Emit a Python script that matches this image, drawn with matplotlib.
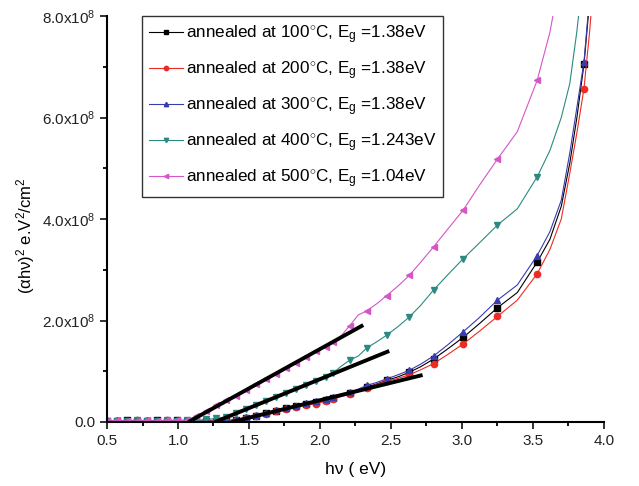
import matplotlib
matplotlib.use("Agg")
import matplotlib.pyplot as plt
from matplotlib.ticker import MultipleLocator, FuncFormatter

plt.rcParams['font.family'] = ['Liberation Sans', 'DejaVu Sans']
plt.rcParams['mathtext.fontset'] = 'custom'
plt.rcParams['mathtext.rm'] = 'Liberation Sans'
plt.rcParams['mathtext.it'] = 'Liberation Sans:italic'

# photon energy (eV)
hv = [0.50, 0.57, 0.64, 0.71, 0.78, 0.85, 0.92, 0.99, 1.06, 1.13, 1.20, 1.27,
      1.34, 1.41, 1.48, 1.55, 1.62, 1.69, 1.76, 1.83, 1.90, 1.97, 2.04, 2.09,
      2.15, 2.21, 2.27, 2.33, 2.40, 2.47, 2.55, 2.63, 2.71, 2.80, 2.90, 3.01,
      3.12, 3.25, 3.39, 3.53, 3.62, 3.70, 3.76, 3.81, 3.86, 3.90, 3.95]

# (alpha h nu)^2 in units of 1e8
y_100 = [0.02, 0.02, 0.03, 0.02, 0.02, 0.03, 0.02, 0.03, 0.02, 0.02, 0.02, 0.02,
         0.02, 0.04, 0.08, 0.12, 0.17, 0.22, 0.27, 0.31, 0.36, 0.40, 0.44, 0.48,
         0.52, 0.57, 0.63, 0.69, 0.75, 0.82, 0.89, 0.98, 1.09, 1.24, 1.44, 1.67,
         1.93, 2.25, 2.55, 3.15, 3.60, 4.25, 5.10, 6.00, 7.05, 8.30, 10.0]
y_200 = [0.02, 0.02, 0.02, 0.03, 0.02, 0.02, 0.03, 0.02, 0.02, 0.02, 0.03, 0.02,
         0.02, 0.03, 0.07, 0.11, 0.16, 0.21, 0.26, 0.30, 0.33, 0.36, 0.41, 0.45,
         0.50, 0.55, 0.61, 0.67, 0.74, 0.80, 0.86, 0.93, 1.03, 1.15, 1.33, 1.54,
         1.78, 2.08, 2.40, 2.92, 3.40, 4.00, 4.90, 5.70, 6.57, 7.70, 9.50]
y_300 = [0.02, 0.03, 0.02, 0.02, 0.03, 0.02, 0.02, 0.03, 0.03, 0.02, 0.02, 0.02,
         0.03, 0.05, 0.09, 0.13, 0.18, 0.23, 0.28, 0.32, 0.37, 0.42, 0.46, 0.50,
         0.54, 0.59, 0.65, 0.72, 0.78, 0.85, 0.93, 1.02, 1.14, 1.30, 1.52, 1.78,
         2.05, 2.40, 2.70, 3.28, 3.75, 4.37, 5.30, 6.20, 7.10, 8.40, 10.0]
y_400 = [0.02, 0.02, 0.02, 0.03, 0.02, 0.02, 0.03, 0.02, 0.03, 0.03, 0.05, 0.07,
         0.10, 0.17, 0.25, 0.33, 0.41, 0.49, 0.57, 0.65, 0.73, 0.81, 0.89, 0.96,
         1.10, 1.22, 1.30, 1.46, 1.58, 1.71, 1.88, 2.07, 2.30, 2.60, 2.90, 3.22,
         3.52, 3.88, 4.20, 4.83, 5.35, 6.00, 6.67, 7.70, 9.00, 10.0, 12.0]
y_500 = [0.02, 0.03, 0.02, 0.02, 0.03, 0.02, 0.03, 0.04, 0.03, 0.12, 0.22, 0.33,
         0.43, 0.52, 0.63, 0.74, 0.85, 0.95, 1.06, 1.17, 1.28, 1.39, 1.48, 1.57,
         1.70, 1.90, 2.11, 2.19, 2.33, 2.49, 2.68, 2.89, 3.15, 3.45, 3.80, 4.18,
         4.65, 5.18, 5.72, 6.73, 7.68, 8.90, 10.0, 11.0, 11.5, 12.0, 12.5]

labels = ["annealed at 100$^{\\circ}$C, E$_{\\rm g}$ =1.38eV",
          "annealed at 200$^{\\circ}$C, E$_{\\rm g}$ =1.38eV",
          "annealed at 300$^{\\circ}$C, E$_{\\rm g}$ =1.38eV",
          "annealed at 400$^{\\circ}$C, E$_{\\rm g}$ =1.243eV",
          "annealed at 500$^{\\circ}$C, E$_{\\rm g}$ =1.04eV"]

# linear fits (Tauc extrapolation lines)
fit_500_x = [1.073, 2.305]
fit_500_y = [0.0, 1.91]
fit_400_x = [1.26, 2.488]
fit_400_y = [0.0, 1.40]
fit_300_x = [1.378, 2.723]
fit_300_y = [0.0, 0.926]

series = [y_100, y_200, y_300, y_400, y_500]
colors = ['#000000', '#ee2b22', '#3b3bb0', '#2a8a82', '#d655c8']
markers = ['s', 'o', '^', 'v', '<']

no_marker = {2.15, 2.27, 2.40, 2.55, 2.71, 2.90, 3.12, 3.39, 3.62, 3.70, 3.76,
             3.81, 3.90, 3.95}
mark_idx = [i for i, x in enumerate(hv) if x not in no_marker]

fig = plt.figure(figsize=(6.39, 4.86), dpi=100)
ax = fig.add_axes([0.1675, 0.1317, 0.7775, 0.8353])

scale = 1e8
for ys, c, m, lab in zip(series, colors, markers, labels):
    ax.plot(hv, [v * scale for v in ys], color=c, lw=0.8, marker=m, ms=4.5,
            markevery=mark_idx, label=lab)

for fx, fy in [(fit_500_x, fit_500_y), (fit_400_x, fit_400_y), (fit_300_x, fit_300_y)]:
    ax.plot(fx, [v * scale for v in fy], color='black', lw=2.8, solid_capstyle='butt')

ax.set_xlim(0.5, 4.0)
ax.set_ylim(0, 8e8)
ax.spines['top'].set_visible(False)
ax.spines['right'].set_visible(False)
for s in ['left', 'bottom']:
    ax.spines[s].set_linewidth(1.5)
ax.xaxis.set_major_locator(MultipleLocator(0.5))
ax.xaxis.set_minor_locator(MultipleLocator(0.25))
ax.yaxis.set_major_locator(MultipleLocator(2e8))
ax.yaxis.set_minor_locator(MultipleLocator(1e8))
ax.tick_params(which='major', direction='out', length=5, width=1.3, labelsize=11, colors='#222222')
ax.tick_params(which='minor', direction='out', length=3, width=1.3)


def yfmt(v, pos):
    if abs(v) < 1:
        return "0.0"
    return "%.1fx10$^{8}$" % (v / 1e8)


ax.yaxis.set_major_formatter(FuncFormatter(yfmt))
ax.xaxis.set_major_formatter(FuncFormatter(lambda v, p: "%.1f" % v))

ax.set_xlabel("h\u03bd ( eV)", fontsize=12.5, labelpad=10)
ax.set_ylabel("(\u03b1h\u03bd)$^{2}$ e.V$^{2}$/cm$^{2}$", fontsize=12)
ax.yaxis.set_label_coords(-0.14, 0.46)

leg = ax.legend(loc='upper left', bbox_to_anchor=(0.07, 1.0), borderaxespad=0.0,
                fontsize=12.3, frameon=True, fancybox=False, edgecolor='black',
                handlelength=2.0, handletextpad=0.15, borderpad=0.42,
                labelspacing=0.78, markerscale=0.7)
leg.get_frame().set_linewidth(1.0)

fig.savefig("out.png", dpi=100)
